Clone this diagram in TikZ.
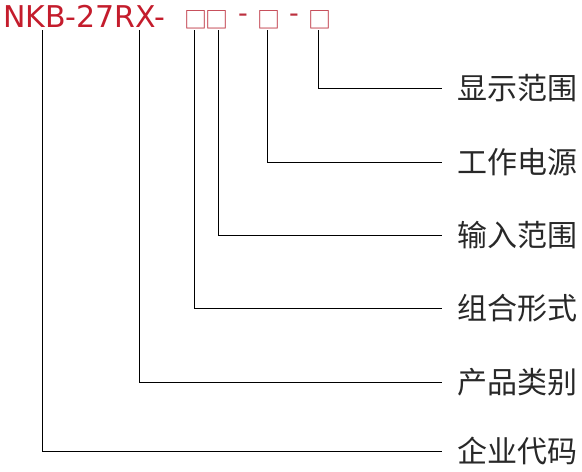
\documentclass[tikz,border=0pt]{standalone}
\usepackage{fontspec}
\setmainfont{Noto Sans CJK SC}
\newfontfamily\codefont{DejaVu Sans}
\usetikzlibrary{positioning}
\definecolor{codered}{RGB}{196,28,44}
\definecolor{boxred}{RGB}{188,48,62}
\definecolor{lbltext}{RGB}{40,40,40}

\begin{document}
\begin{tikzpicture}[
  x=1pt, y=-1pt,
  code/.style = {anchor=base west, inner sep=0pt, text=codered,
                 font=\codefont\fontsize{30}{30}\selectfont},
  cbox/.style = {inner sep=0pt, text=boxred,
                 font=\fontsize{23}{23}\selectfont},
  cdash/.style = {inner sep=0pt, text=boxred,
                 font=\codefont\fontsize{27}{27}\selectfont},
  lbl/.style  = {anchor=west, inner xsep=15pt, inner ysep=0pt, text=lbltext,
                 font=\fontsize{30}{30}\selectfont},
  ln/.style   = {line width=1pt, color=black}
]
\useasboundingbox (0,0) rectangle (582,472);

% Model code on top
\node[code] (model) at (3,27) {NKB-27RX-};
\node[cbox]  (bA) at (195.5,19.5) {□};
\node[cbox]  (bB) at (217,19.5)   {□};
\node[cdash] (dA) at (243,18)     {-};
\node[cbox]  (bC) at (269,19.5)   {□};
\node[cdash] (dB) at (294,18)     {-};
\node[cbox]  (bD) at (320,19.5)   {□};

% Line tops under the code
\coordinate (tCorp) at (42,30);
\coordinate (tCat)  at (139,30);
\coordinate (tComb) at (194,30);
\coordinate (tIn)   at (218,30);
\coordinate (tPow)  at (267,30);
\coordinate (tDisp) at (318,30);

% Labels on the right
\node[lbl] (disp) at (442,88)  {显示范围};
\node[lbl] (pow)  at (442,162) {工作电源};
\node[lbl] (in)   at (442,235) {输入范围};
\node[lbl] (comb) at (442,308) {组合形式};
\node[lbl] (cat)  at (442,382) {产品类别};
\node[lbl] (corp) at (442,451) {企业代码};

% Leader lines
\draw[ln] (tDisp) |- (disp.west);
\draw[ln] (tPow)  |- (pow.west);
\draw[ln] (tIn)   |- (in.west);
\draw[ln] (tComb) |- (comb.west);
\draw[ln] (tCat)  |- (cat.west);
\draw[ln] (tCorp) |- (corp.west);

\end{tikzpicture}
\end{document}
